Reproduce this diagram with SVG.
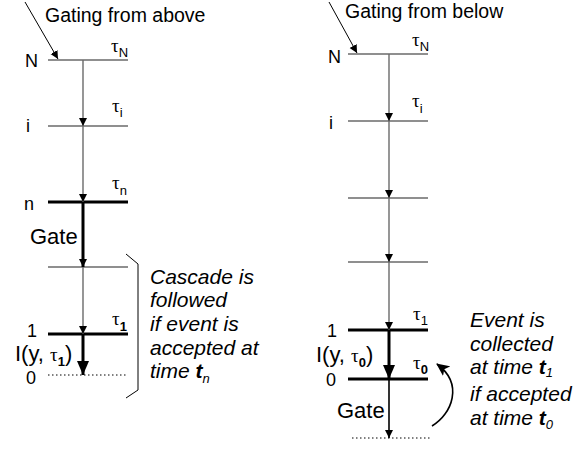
<svg xmlns="http://www.w3.org/2000/svg" width="582" height="454" viewBox="0 0 582 454">
<style>
text{font-family:"Liberation Sans",Arial,sans-serif;fill:#000}
.t{font-size:19.5px}
.lab{font-size:18px}
.g{font-size:22px}
.it{font-size:21px;font-style:italic}
.tau{font-family:"Liberation Serif","DejaVu Serif",serif;font-size:19px}
.sub{font-size:13px}
.b{font-weight:bold}
.thin{stroke:#6a6a6a;stroke-width:1.4;fill:none}
.thick{stroke:#000;stroke-width:3;fill:none}
.med{stroke:#000;stroke-width:1.6;fill:none}
.dot{stroke:#000;stroke-width:1;stroke-dasharray:1.5 2.5;fill:none}
.blk{stroke:#000;stroke-width:1;fill:none}
</style>
<defs>
<marker id="ah" markerWidth="8" markerHeight="10" refX="8" refY="5" orient="auto" markerUnits="userSpaceOnUse" viewBox="0 0 8 10"><path d="M0,1 L8,5 L0,9 z" fill="#000"/></marker>
<marker id="ahb" markerWidth="14" markerHeight="12" refX="14" refY="6" orient="auto" markerUnits="userSpaceOnUse" viewBox="0 0 14 12"><path d="M0,0 L14,6 L0,12 z" fill="#000"/></marker>
<marker id="ahc" markerWidth="13" markerHeight="12" refX="12" refY="6" orient="auto" markerUnits="userSpaceOnUse" viewBox="0 0 13 12"><path d="M0,0 L13,6 L0,12 L3,6 z" fill="#000"/></marker>
</defs>

<!-- LEFT DIAGRAM -->
<g id="left-title"><text class="t" x="45" y="22">Gating from above</text></g>
<g id="L-N">
<line class="thin" x1="48" y1="60" x2="128" y2="60"/>
<text class="lab" x="25" y="67">N</text>
<text x="111" y="52"><tspan class="tau">τ</tspan><tspan class="sub" dy="5">N</tspan></text>
</g>
<g id="L-i">
<line class="thin" x1="48" y1="126" x2="128" y2="126"/>
<text class="lab" x="26" y="132">i</text>
<text x="112" y="112"><tspan class="tau">τ</tspan><tspan class="sub" dy="5">i</tspan></text>
</g>
<g id="L-n">
<line class="thick" x1="48" y1="202" x2="128" y2="202"/>
<text class="lab" x="24" y="210">n</text>
<text x="112" y="189"><tspan class="tau">τ</tspan><tspan class="sub" dy="6">n</tspan></text>
</g>
<g id="L-gate-level">
<line class="thin" x1="48" y1="267" x2="128" y2="267"/>
<text class="g" x="30" y="244">Gate</text>
</g>
<g id="L-1">
<line class="thick" x1="48" y1="334" x2="128" y2="334"/>
<text class="lab" x="27" y="337">1</text>
<text x="112" y="325"><tspan class="tau">τ</tspan><tspan class="sub b" dy="6">1</tspan></text>
</g>
<g id="L-I">
<text class="g" x="15" y="361">I(y, <tspan class="tau" font-size="21">τ</tspan><tspan class="sub b" font-size="14" dy="5">1</tspan><tspan dy="-5">)</tspan></text>
</g>
<g id="L-0">
<line class="dot" x1="48" y1="375" x2="128" y2="375"/>
<text class="lab" x="26" y="384">0</text>
</g>
<g id="L-note">
<polyline class="blk" points="126,254 138,264 138,390 126,398"/>
<text class="it" x="150" y="284">Cascade is</text>
<text class="it" x="150" y="307">followed</text>
<text class="it" x="150" y="331">if event is</text>
<text class="it" x="150" y="355">accepted at</text>
<text class="it" x="150" y="378">time <tspan class="b">t</tspan><tspan class="sub" font-size="12" dy="5">n</tspan></text>
</g>

<!-- RIGHT DIAGRAM -->
<g id="right-title"><text class="t" x="345" y="18">Gating from below</text></g>
<g id="R-N">
<line class="thin" x1="348" y1="54" x2="428" y2="54"/>
<text class="lab" x="328" y="63">N</text>
<text x="412" y="46"><tspan class="tau">τ</tspan><tspan class="sub" dy="5">N</tspan></text>
</g>
<g id="R-i">
<line class="thin" x1="348" y1="121" x2="428" y2="121"/>
<text class="lab" x="329" y="129">i</text>
<text x="412" y="107"><tspan class="tau">τ</tspan><tspan class="sub" dy="6">i</tspan></text>
</g>
<g id="R-l3"><line class="thin" x1="348" y1="198" x2="428" y2="198"/></g>
<g id="R-l4"><line class="thin" x1="348" y1="262" x2="428" y2="262"/></g>
<g id="R-1">
<line class="thick" x1="348" y1="330" x2="428" y2="330"/>
<text class="lab" x="327" y="337">1</text>
<text x="413" y="320"><tspan class="tau">τ</tspan><tspan class="sub" dy="5">1</tspan></text>
</g>
<g id="R-I">
<text class="g" x="316" y="362">I(y, <tspan class="tau" font-size="21">τ</tspan><tspan class="sub b" font-size="14" dy="5">0</tspan><tspan dy="-5">)</tspan></text>
</g>
<g id="R-0">
<line class="thick" x1="348" y1="379" x2="428" y2="379"/>
<text class="lab" x="326" y="386">0</text>
<text x="413" y="369"><tspan class="tau">τ</tspan><tspan class="sub b" font-size="14" dy="5">0</tspan></text>
</g>
<g id="R-gate">
<text class="g" x="337" y="418">Gate</text>
<line class="dot" x1="352" y1="438" x2="432" y2="438"/>
</g>
<g id="R-note">
<text class="it" x="470" y="327">Event is</text>
<text class="it" x="470" y="351">collected</text>
<text class="it" x="470" y="374">at time <tspan class="b">t</tspan><tspan class="sub" font-size="12" dy="3">1</tspan></text>
<text class="it" x="470" y="401">if accepted</text>
<text class="it" x="470" y="425">at time <tspan class="b">t</tspan><tspan class="sub" font-size="12" dy="4">0</tspan></text>
</g>

<!-- CONNECTORS -->
<g id="connectors">
<line class="blk" x1="25" y1="2" x2="58" y2="59" marker-end="url(#ah)"/>
<line class="thin" x1="83" y1="60" x2="83" y2="126" marker-end="url(#ah)"/>
<line class="thin" x1="83" y1="126" x2="83" y2="202" marker-end="url(#ah)"/>
<line class="thick" x1="83" y1="202" x2="83" y2="267" marker-end="url(#ah)"/>
<line class="thin" x1="83" y1="267" x2="83" y2="334" marker-end="url(#ah)"/>
<line class="thick" x1="83" y1="334" x2="83" y2="375" marker-end="url(#ahb)"/>

<line class="blk" x1="329" y1="2" x2="357" y2="53" marker-end="url(#ah)"/>
<line class="thin" x1="389" y1="54" x2="389" y2="121" marker-end="url(#ah)"/>
<line class="thin" x1="389" y1="121" x2="389" y2="198" marker-end="url(#ah)"/>
<line class="thin" x1="389" y1="198" x2="389" y2="262" marker-end="url(#ah)"/>
<line class="thin" x1="389" y1="262" x2="389" y2="330" marker-end="url(#ah)"/>
<line class="thick" x1="389" y1="330" x2="389" y2="379" marker-end="url(#ahb)"/>
<line class="med" x1="389" y1="379" x2="389" y2="438" marker-end="url(#ah)"/>
<path class="med" d="M432,426 C452,414 464,384 437,364" stroke-width="2" marker-end="url(#ahc)"/>
</g>
</svg>
